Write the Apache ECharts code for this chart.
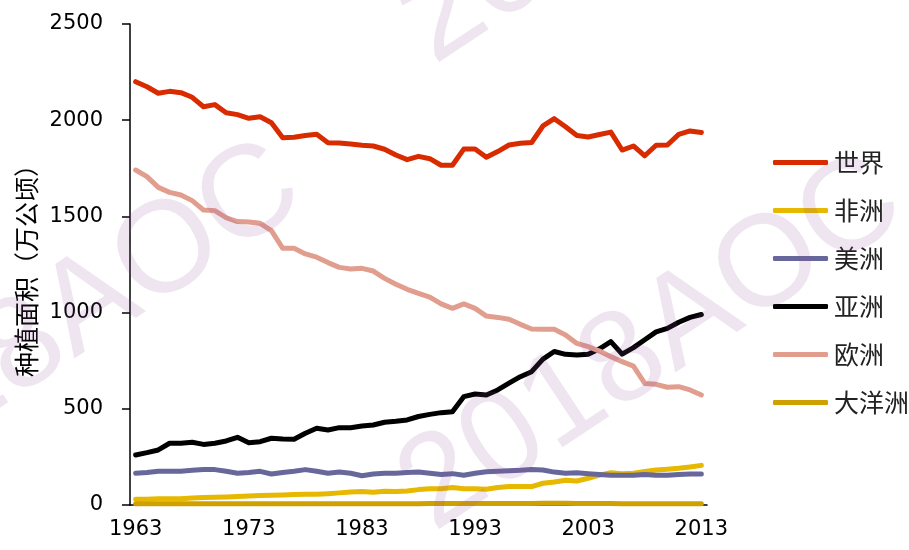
<!DOCTYPE html>
<html>
<head>
<meta charset="utf-8">
<script src="https://cdn.jsdelivr.net/npm/echarts@6/dist/echarts.min.js"></script>
<style>html,body{margin:0;padding:0;background:#fff}#c{width:909px;height:550px}</style>
</head>
<body>
<div id="c"></div>
<script>
var years = [];
for (var y = 1963; y <= 2013; y++) years.push(String(y));

var seriesNames = ['世界', '非洲', '美洲', '亚洲', '欧洲', '大洋洲'];
var world = [2200,2174,2140,2150,2143,2119,2070,2081,2039,2029,2010,2018,1987,1909,1911,1920,1927,1883,1882,1876,1870,1866,1849,1819,1795,1812,1800,1766,1766,1850,1850,1807,1837,1871,1880,1884,1970,2008,1966,1921,1913,1926,1938,1845,1866,1815,1870,1871,1926,1944,1936];
var africa = [30,30,32,33,33,37,39,40,42,44,47,49,51,52,54,56,56,59,63,68,70,66,72,70,73,80,85,84,91,85,84,82,91,96,96,96,113,120,129,125,139,155,168,163,165,174,182,186,191,198,206];
var americas = [165,169,175,175,176,180,184,184,175,165,169,175,161,169,175,184,175,165,171,165,152,161,165,165,169,171,165,159,163,155,165,173,175,178,180,184,182,171,165,167,163,159,155,155,155,159,155,155,159,161,161];
var asia = [260,272,286,321,321,326,315,321,333,352,324,329,347,343,342,373,399,390,402,402,411,416,430,435,442,460,471,480,485,563,577,572,598,633,667,693,758,798,783,780,783,812,849,784,818,859,900,918,950,975,990];
var europe = [1741,1707,1651,1625,1611,1582,1533,1530,1493,1473,1471,1464,1426,1334,1334,1305,1288,1260,1235,1227,1230,1216,1178,1147,1121,1100,1080,1045,1022,1045,1022,982,975,965,939,915,913,913,884,840,823,800,771,745,722,632,627,612,615,598,572];
var oceania = [6,6,6,6,6,6,6,6,6,6,7,7,7,7,7,7,7,7,7,7,7,7,7,7,7,7,8,8,8,8,8,8,8,8,8,8,9,9,9,8,8,8,8,7,7,7,7,7,7,7,7];
var yTitle = '种植面积（万公顷）';
var watermark = '2018AOC';

var colors = ['#d92b00', '#e6b800', '#67679b', '#000000', '#e19d8e', '#cfa100'];
var dataList = [world, africa, americas, asia, europe, oceania];

var numFont = '"DejaVu Sans", sans-serif';
var cjkFont = '"Noto Sans CJK SC", sans-serif';

var chart = echarts.init(document.getElementById('c'), null, {renderer: 'canvas'});
var series = seriesNames.map(function (n, i) {
  return {
    name: n, type: 'line', data: dataList[i], symbol: 'none', smooth: false,
    lineStyle: {color: colors[i], width: 5, cap: 'round', join: 'round'},
    itemStyle: {color: colors[i]},
    emphasis: {disabled: true}
  };
});

var wmStyle = {fill: 'rgba(150,80,160,0.15)', font: '130px "Liberation Sans", sans-serif', text: watermark, align: 'center', verticalAlign: 'middle'};
var rot = 33.5 * Math.PI / 180;
function wm(x, y) {
  return {type: 'text', x: x, y: y, rotation: rot, z: 100, silent: true, style: echarts.util.extend({}, wmStyle)};
}

chart.setOption({
  animation: false,
  grid: {left: 130, right: 202, top: 24, bottom: 45, containLabel: false},
  xAxis: {
    type: 'category', data: years, boundaryGap: true,
    axisLine: {lineStyle: {color: '#000', width: 1.5}},
    axisTick: {interval: 9, length: 7, lineStyle: {color: '#000', width: 1.5}},
    axisLabel: {interval: 9, color: '#000', fontSize: 21, fontFamily: numFont, margin: 14},
    splitLine: {show: false}
  },
  yAxis: {
    type: 'value', min: 0, max: 2500, interval: 500,
    name: yTitle, nameLocation: 'middle', nameRotate: 90, nameGap: 89,
    nameTextStyle: {color: '#000', fontSize: 25, fontFamily: cjkFont},
    axisLine: {show: true, lineStyle: {color: '#000', width: 1.5}},
    axisTick: {show: true, length: 8, lineStyle: {color: '#000', width: 1.5}},
    axisLabel: {color: '#000', fontSize: 21, fontFamily: numFont, margin: 27,
      formatter: function (v) { return String(v); }},
    splitLine: {show: false}
  },
  legend: {
    orient: 'vertical', left: 768, top: 145, icon: 'roundRect',
    itemWidth: 55, itemHeight: 5, itemGap: 23,
    textStyle: {color: '#222', fontSize: 25, lineHeight: 25, fontFamily: cjkFont, padding: [0,0,0,1]},
    data: seriesNames
  },
  series: series,
  graphic: [wm(652, 345), wm(51, 331), wm(652, -122)]
});
</script>
</body>
</html>
